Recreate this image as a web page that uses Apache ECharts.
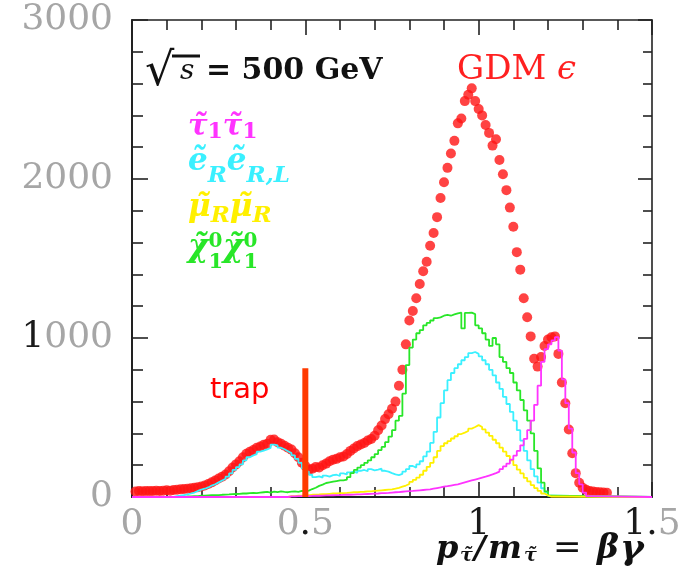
<!DOCTYPE html>
<html><head><meta charset="utf-8">
<script src="https://cdn.jsdelivr.net/npm/echarts@6/dist/echarts.min.js"></script>
<style>html,body{margin:0;padding:0;background:#fff}#c{width:691px;height:577px}</style>
</head><body><div id="c"></div>
<script>
// ---- data (bin width 0.01) ----
const BIN = 0.01;
const xTickValues = [0, 0.5, 1, 1.5];
const xTickLabels = ['{g|0}', '{g|0}{k|.}{g|5}', '{k|1}', '{k|1.}{g|5}'];
const yTickValues = [0, 1000, 2000, 3000];
const yTickLabels = ['{g|0}', '{k|1}{g|000}', '{g|2000}', '{g|3000}'];

const cyanStart = 0.12;   // e_R e_R,L
const cyanValues = [
  5, 8, 12, 16, 22, 28, 38, 46, 52, 60,
  72, 80, 92, 104, 115, 128, 148, 170, 188, 205,
  230, 250, 262, 270, 285, 292, 300, 308, 330, 325,
  310, 300, 288, 276, 262, 240, 215, 180, 160, 140,
  125, 130, 122, 135, 128, 138, 140, 132, 148, 142,
  155, 160, 152, 165, 170, 162, 175, 168, 172, 178,
  165, 160, 150, 142, 138, 145, 160, 175, 195, 185,
  205, 225, 255, 285, 340, 410, 500, 590, 670, 735,
  780, 810, 835, 860, 880, 905, 912, 900, 885, 860,
  835, 800, 765, 720, 680, 630, 585, 535, 480, 420,
  355, 290, 230, 175, 130, 90, 55, 28, 8
];
const greenStart = 0.15;  // chi chi
const greenValues = [
  3, 4, 5, 6, 8, 9, 10, 11, 12, 12,
  14, 15, 16, 18, 19, 20, 22, 22, 24, 26,
  25, 28, 30, 32, 28, 34, 30, 35, 32, 30,
  34, 36, 32, 38, 36, 40, 50, 58, 70, 78,
  88, 92, 96, 100, 104, 105, 110, 125, 150, 170,
  185, 200, 215, 230, 250, 270, 295, 315, 345, 380,
  420, 480, 510, 650, 830, 940, 990, 1030, 1050, 1080,
  1095, 1110, 1125, 1130, 1140, 1145, 1140, 1148, 1155, 1160,
  1060, 1158, 1160, 1150, 1080, 1060, 1030, 990, 950, 1000,
  960, 880, 850, 810, 780, 720, 670, 610, 545, 480,
  400, 290, 180, 90, 35, 8
];
const yellowStart = 0.45; // mu mu
const yellowValues = [
  5, 6, 8, 8, 10, 12, 14, 15, 16, 18,
  18, 20, 22, 22, 24, 25, 26, 28, 30, 30,
  32, 33, 35, 36, 38, 40, 42, 44, 46, 48,
  52, 58, 65, 72, 82, 95, 108, 122, 140, 165,
  190, 215, 250, 290, 320, 338, 352, 368, 382, 396,
  405, 415, 430, 440, 452, 440, 425, 405, 385, 360,
  338, 310, 285, 258, 230, 200, 172, 148, 120, 98,
  75, 56, 38, 22, 10, 3
];
const magentaStart = 0.45; // tau tau
const magentaValues = [
  4, 4, 5, 5, 6, 6, 7, 8, 8, 9,
  10, 10, 11, 12, 12, 13, 14, 14, 15, 16,
  17, 18, 19, 20, 21, 22, 24, 25, 26, 28,
  30, 31, 33, 35, 37, 38, 40, 42, 44, 46,
  48, 52, 56, 60, 65, 68, 72, 76, 80, 86,
  92, 98, 104, 110, 116, 122, 128, 135, 142, 150,
  160, 175, 192, 210, 235, 260, 290, 325, 365, 420,
  480, 580, 700, 850, 930, 960, 985, 1005, 920, 740,
  590, 430, 280, 150, 80, 28, 5
];
const gdmStart = 0.01;    // GDM epsilon (points)
const gdmValues = [
  35, 38, 36, 38, 37, 38, 40, 38, 40, 42,
  40, 44, 46, 48, 50, 52, 55, 58, 62, 66,
  72, 82, 92, 104, 116, 128, 142, 162, 185, 205,
  225, 250, 272, 285, 295, 310, 318, 328, 335, 360,
  362, 345, 335, 322, 310, 298, 275, 250, 215, 195,
  172, 178, 188, 185, 200, 210, 225, 235, 240, 250,
  255, 270, 290, 305, 320, 330, 340, 355, 365, 385,
  420, 450, 490, 520, 555, 600, 700, 800, 960, 1110,
  1170, 1250, 1340, 1420, 1480, 1580, 1660, 1760, 1880, 1980,
  2070, 2160, 2240, 2350, 2380, 2490, 2530, 2570, 2490, 2440,
  2400, 2340, 2290, 2210, 2250, 2120, 2030, 1930, 1820, 1700,
  1540, 1430, 1250, 1130, 1010, 870, 820, 880, 950, 990,
  1005, 1010, 900, 720, 590, 425, 275, 150, 90, 58,
  45, 38, 34, 32, 30, 28, 26
];
const trapX = 0.5;
const trapTop = 810;
const X_MIN = 0, X_MAX = 1.5, Y_MIN = 0, Y_MAX = 3000;

// ---- builders ----
function hist(start, vals) {
  const pts = [[X_MIN, 0]];
  vals.forEach((v, i) => pts.push([+(start + i * BIN).toFixed(4), v]));
  pts.push([+(start + vals.length * BIN).toFixed(4), 0]);
  pts.push([X_MAX, 0]);
  return pts;
}
function points(start, vals) {
  return vals.map((v, i) => [+(start + i * BIN).toFixed(4), v]);
}
function pick(vals, labels) {
  return function (v) {
    const i = vals.findIndex(t => Math.abs(t - v) < 1e-9);
    return i >= 0 ? labels[i] : '';
  };
}
const SERIF = 'DejaVu Serif';
const labelRich = {
  g: { fontFamily: SERIF, fontSize: 36, color: '#a6a6a6' },
  k: { fontFamily: SERIF, fontSize: 36, color: '#1a1a1a' }
};
const AX = '#222';
function axisCommon(major, minor, w) {
  return {
    axisLine: { show: true, onZero: false, lineStyle: { color: AX, width: w } },
    axisTick: { show: true, inside: true, length: major, lineStyle: { color: AX, width: 1.6 } },
    minorTick: { show: true, splitNumber: 5, length: minor, lineStyle: { color: AX, width: 1.6 } },
    splitLine: { show: false }, minorSplitLine: { show: false }
  };
}
function mathStyle(size, padTop, lh, extra) {
  return Object.assign({ fontFamily: SERIF, fontStyle: 'italic', fontWeight: 'bold',
    fontSize: size, lineHeight: lh, verticalAlign: 'top', padding: [padTop, 0, 0, 0] }, extra || {});
}
function txt(text, x, y, size, fill, opts) {
  return { type: 'text', x: x, y: y, style: Object.assign({ text: text, fontFamily: SERIF, fontSize: size,
    fill: fill, align: 'left', verticalAlign: 'middle' }, opts || {}) };
}
const BI = { fontStyle: 'italic', fontWeight: 'bold' };

const chart = echarts.init(document.getElementById('c'), null, { renderer: 'canvas' });
chart.setOption({
  animation: false,
  backgroundColor: '#fff',
  grid: { left: 132, right: 39, top: 20, bottom: 80, outerBoundsMode: 'none' },
  xAxis: [
    Object.assign({ type: 'value', min: X_MIN, max: X_MAX, interval: 0.5, position: 'bottom',
      axisLabel: { show: true, margin: 10, showMinLabel: true, showMaxLabel: true,
        formatter: pick(xTickValues, xTickLabels), rich: labelRich } }, axisCommon(15, 10, 2)),
    Object.assign({ type: 'value', min: X_MIN, max: X_MAX, interval: 0.5, position: 'top',
      axisLabel: { show: false } }, axisCommon(15, 10, 1.6))
  ],
  yAxis: [
    Object.assign({ type: 'value', min: Y_MIN, max: Y_MAX, interval: 1000, position: 'left',
      axisLabel: { show: true, margin: 19, showMinLabel: true, showMaxLabel: true,
        formatter: pick(yTickValues, yTickLabels), rich: labelRich } }, axisCommon(16, 11, 2)),
    Object.assign({ type: 'value', min: Y_MIN, max: Y_MAX, interval: 1000, position: 'right',
      axisLabel: { show: false } }, axisCommon(14, 9, 1.6))
  ],
  series: [
    { name: 'GDM', type: 'scatter', data: points(gdmStart, gdmValues), symbol: 'circle',
      symbolSize: 10, itemStyle: { color: '#ff1414' }, z: 2, silent: true },
    { name: 'eR', type: 'line', step: 'end', data: hist(cyanStart, cyanValues), showSymbol: false,
      lineStyle: { color: '#3af0ff', width: 1.8 }, z: 3, silent: true },
    { name: 'chi', type: 'line', step: 'end', data: hist(greenStart, greenValues), showSymbol: false,
      lineStyle: { color: '#28e628', width: 1.8 }, z: 3, silent: true },
    { name: 'mu', type: 'line', step: 'end', data: hist(yellowStart, yellowValues), showSymbol: false,
      lineStyle: { color: '#fff000', width: 1.8 }, z: 3, silent: true },
    { name: 'tau', type: 'line', step: 'end', data: hist(magentaStart, magentaValues), showSymbol: false,
      lineStyle: { color: '#ff33ff', width: 1.8 }, z: 3, silent: true },
    { name: 'trap', type: 'line', data: [[trapX, 0], [trapX, trapTop]], showSymbol: false,
      lineStyle: { color: '#ff3a00', width: 6 }, z: 4, silent: true }
  ],
  graphic: [
    // sqrt(s) = 500 GeV
    txt('√', 145, 73, 46, '#111'),
    txt('s', 180, 72, 28, '#111', { fontStyle: 'italic' }),
    { type: 'rect', shape: { x: 172, y: 54.5, width: 28, height: 3 }, style: { fill: '#111' } },
    txt('= 500 GeV', 206, 71.5, 30, '#111', { fontWeight: 'bold' }),
    // GDM epsilon
    { type: 'text', x: 457, y: 70.5, style: { text: '{a|GDM }{b|ϵ}', fill: '#ff2020', verticalAlign: 'middle',
        rich: { a: { fontFamily: SERIF, fontSize: 34 }, b: { fontFamily: SERIF, fontSize: 34, fontStyle: 'italic' } } } },
    // legend
    { type: 'text', x: 188, y: 113, style: { text: '{m|τ̃}{s|1}{m|τ̃}{s|1}', fill: '#ff33ff', verticalAlign: 'top',
        rich: { m: mathStyle(29, 0, 30), s: mathStyle(22, 8, 22, { fontStyle: 'normal' }) } } },
    { type: 'text', x: 188, y: 146, style: { text: '{m|ẽ}{s|R}{m|ẽ}{s|R,L}', fill: '#3af0ff', verticalAlign: 'top',
        rich: { m: mathStyle(31, 0, 32), s: mathStyle(23, 19, 23) } } },
    { type: 'text', x: 188, y: 192, style: { text: '{m|μ̃}{s|R}{m|μ̃}{s|R}', fill: '#fff000', verticalAlign: 'top',
        rich: { m: mathStyle(31, 0, 32), s: mathStyle(23, 13, 23) } } },
    { type: 'text', x: 188, y: 232, style: { text: '{m|χ̃}{p|0}{s|1}{m|χ̃}{p|0}{s|1}', fill: '#28e628', verticalAlign: 'top',
        rich: { m: mathStyle(31, 0, 32), p: mathStyle(20, 0, 20, { fontStyle: 'normal', width: 0 }), s: mathStyle(21, 20, 21, { fontStyle: 'normal' }) } } },
    // trap label
    txt('trap', 210, 390, 29, '#ff0000', { fontFamily: 'DejaVu Sans' }),
    // x axis title
    txt('p', 436, 549.5, 32, '#111', BI),
    txt('τ̃', 460, 556, 19, '#111', BI),
    txt('/', 474, 549.5, 32, '#111', BI),
    txt('m', 488, 549.5, 32, '#111', BI),
    txt('τ̃', 524, 556, 19, '#111', BI),
    txt('=', 553, 549.5, 34, '#111'),
    txt('β', 597, 549.5, 33, '#111', BI),
    txt('γ', 620, 549.5, 36, '#111', BI)
  ]
});
</script></body></html>
